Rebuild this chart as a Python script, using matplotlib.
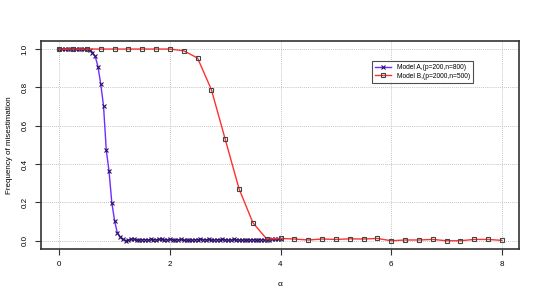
import numpy as np
import matplotlib
matplotlib.use("Agg")
import matplotlib.pyplot as plt

plt.rcParams['font.family'] = ['Liberation Sans', 'DejaVu Sans']

# Model A: alpha from 0 to 4 step 0.05
alpha_a = [round(0.05 * i, 2) for i in range(81)]
freq_a = [1.0, 1.0, 1.0, 1.0, 1.0, 1.0, 1.0, 1.0, 1.0, 1.0, 1.0,
          0.995, 0.982, 0.962, 0.908, 0.817, 0.704, 0.473, 0.362, 0.199, 0.105,
          0.040, 0.022, 0.007, 0.001, 0.002, 0.010, 0.008, 0.004, 0.004, 0.005,
          0.006, 0.004, 0.007, 0.006, 0.005, 0.008, 0.007, 0.004, 0.006, 0.007,
          0.006, 0.004, 0.005, 0.007, 0.003, 0.003, 0.004, 0.003, 0.005, 0.006,
          0.008, 0.006, 0.005, 0.007, 0.004, 0.003, 0.006, 0.005, 0.007, 0.006,
          0.003, 0.004, 0.007, 0.005, 0.004, 0.003, 0.004, 0.005, 0.003, 0.006,
          0.004, 0.005, 0.004, 0.005, 0.004, 0.006, 0.008, 0.009, 0.008, 0.010]

# Model B: alpha from 0 to 8 step 0.25
alpha_b = [0.25 * i for i in range(33)]
freq_b = [1.0, 1.0, 1.0, 1.0, 1.0, 1.0, 1.0, 1.0, 1.0, 0.991, 0.953, 0.788,
          0.529, 0.271, 0.094, 0.009, 0.012, 0.009, 0.004, 0.009, 0.007, 0.010,
          0.009, 0.012, 0.0, 0.004, 0.004, 0.007, 0.0, 0.0, 0.007, 0.007, 0.002]

labels = ["Model A,(p=200,n=800)", "Model B,(p=2000,n=500)"]
xticks = [0, 2, 4, 6, 8]
yticks = [0.0, 0.2, 0.4, 0.6, 0.8, 1.0]

fig = plt.figure(figsize=(5.41, 3.0), dpi=100)
ax = fig.add_axes([41/541, 1 - 249/300, (519 - 41)/541, (249 - 41)/300])

ax.plot(alpha_a, freq_a, color='#6f2cff', lw=1.0, marker='x', ms=2.8,
        mec='#2a1060', mew=0.8, label=labels[0], zorder=3)
ax.plot(alpha_b, freq_b, color='#ff3030', lw=1.0, marker='s', ms=3.0,
        mfc='none', mec='#444444', mew=0.8, label=labels[1], zorder=3)

ax.set_xlim(-0.33, 8.31)
ax.set_ylim(-0.043, 1.042)
ax.set_xticks(xticks)
ax.set_xticklabels([str(t) for t in xticks])
ax.set_yticks(yticks)
ax.set_yticklabels(["%.1f" % t for t in yticks], rotation=90, va='center')
ax.grid(True, color='#b0b0b0', linestyle=(0, (1, 1.5)), lw=0.6)
ax.tick_params(direction='out', length=4, width=0.8, labelsize=5.8, pad=5, color='#333333')
for s in ax.spines.values():
    s.set_linewidth(1.2)
    s.set_color('#333333')

ax.set_xlabel("α", fontsize=6, labelpad=9)
ax.set_ylabel("Frequency of misestimation", fontsize=5.8, labelpad=6)

leg = ax.legend(loc='upper left', bbox_to_anchor=((372 - 41)/478, 1 - (61 - 41)/208),
                fontsize=4.8, frameon=True, fancybox=False, edgecolor='#222222',
                handlelength=2.4, borderpad=0.5, labelspacing=0.2, handletextpad=0.8,
                borderaxespad=0)
leg.get_frame().set_linewidth(0.8)

fig.savefig("out.png", dpi=100)
